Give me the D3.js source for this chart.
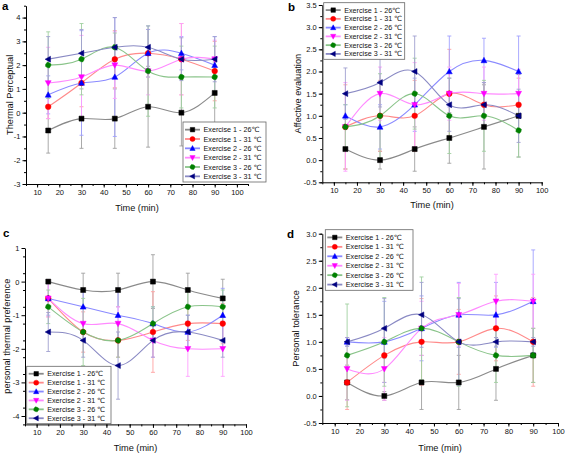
<!DOCTYPE html>
<html><head><meta charset="utf-8">
<script src="https://cdn.jsdelivr.net/npm/d3@7"></script>
<style>body{margin:0;background:#fff}text{font-family:Arial,"Liberation Sans","DejaVu Sans",sans-serif}</style>
</head><body><svg id="c" width="567" height="455"></svg>
<script>
const times=[15,30,45,60,75,90];
const seriesLabels=["Exercise 1 - 26\u2103","Exercise 1 - 31 \u2103","Exercise 2 - 26 \u2103","Exercise 2 - 31 \u2103","Exercise 3 - 26 \u2103","Exercise 3 - 31 \u2103"];
const xTickValues=[10,20,30,40,50,60,70,80,90,100];
// (a) Thermal Perceptual
const thermalMean=[[-0.75,-0.25,-0.25,0.25,0,0.83],[0.25,1.25,2.25,2.5,2.25,1.75],[0.75,1.25,1.5,2.5,2.5,2.0],[1.25,1.5,2.0,1.75,2.25,2.25],[2.0,2.25,2.75,1.75,1.5,1.5],[2.25,2.5,2.75,2.75,2.25,2.25]];
const thermalSD=[[0.95,1.25,1.25,1.7,1.4,1.3],[0.5,1.0,1.2,1.0,1.5,1.25],[0.8,2.2,2.5,1.0,0.7,1.2],[1.5,1.75,1.4,1.0,1.5,0.8],[1.4,1.5,0.6,1.9,1.3,1.3],[0.95,1.0,1.25,0.9,0.9,0.95]];
const thermalYTicks=[-3,-2,-1,0,1,2,3,4];
// (b) Affective evaluation
const affectMean=[[0.25,0,0.25,0.5,0.75,1.0],[0.75,1.0,1.0,1.5,1.25,1.25],[1.0,0.75,1.25,2.0,2.25,2.0],[0.75,1.5,1.25,1.5,1.5,1.5],[0.75,1.0,1.5,1.0,1.0,0.67],[1.5,1.75,2.0,1.25,1.25,1.0]];
const affectSD=[[0.45,0.2,0.5,0.57,0.95,0.93],[0.95,0.8,0.8,1.0,0.5,0.6],[0.25,0.5,0.6,0.8,0.5,0.8],[1.0,0.6,0.95,0.6,0.6,0.55],[0.5,0.95,0.8,0.85,0.8,0.6],[0.58,0.55,0.8,0.6,0.5,0.6]];
const affectYTicks=[-0.5,0,0.5,1,1.5,2,2.5,3,3.5];
// (c) personal thermal preference
const prefMean=[[0,-0.25,-0.25,0,-0.25,-0.5],[-0.5,-1.5,-1.75,-1.5,-1.25,-1.25],[-0.5,-0.75,-1.0,-1.25,-1.5,-1.0],[-0.5,-1.25,-1.25,-1.75,-2.0,-2.0],[-0.75,-1.5,-1.75,-1.25,-0.75,-0.75],[-1.5,-1.75,-2.5,-1.75,-1.5,-1.75]];
const prefSD=[[0.05,0.5,0.5,0.8,0.5,0.57],[0.55,0.6,0.5,1.2,0.5,0.6],[0.5,0.5,0.8,0.5,0.5,0.8],[0.55,0.5,0.5,0.5,0.82,0.82],[0.5,1.0,0.5,0.5,0.5,0.5],[0.58,0.5,1.0,0.5,0.5,0.5]];
const prefYTicks=[-4,-3,-2,-1,0,1];
// (d) Personal tolerance
const tolMean=[[0.25,0,0.25,0.25,0.5,0.75],[0.25,0.75,1.0,1.0,1.25,1.0],[1.0,1.0,1.25,1.5,1.5,1.75],[0.5,0.5,1.25,1.5,1.75,1.75],[0.75,1.0,1.25,1.0,0.75,0.75],[1.0,1.25,1.5,1.0,1.0,1.0]];
const tolSD=[[0.32,0.08,0.5,0.5,0.58,0.5],[0.5,0.5,0.8,0.6,0.6,0.82],[0.08,0.75,0.6,0.6,0.6,0.95],[0.58,0.58,0.5,0.58,0.5,0.5],[0.95,0.82,0.95,0.82,0.5,0.5],[0.08,0.55,0.6,0.8,0.08,0.08]];
const tolYTicks=[-0.5,0,0.5,1,1.5,2,2.5,3];

const markerColors=["#000000","#ff0000","#0000ff","#ff00ff","#008000","#000080"];
const lineColors=["#8a8a8a","#ff8a8a","#8a8aff","#ff8aff","#8ac48a","#8a8ac4"];
const barColors=["#a0a0a0","#ffa0a0","#a0a0ff","#ffa0ff","#a0d0a0","#a0a0d0"];

function markerPath(k){
  const r=3.1;
  switch(k){
    case 0: return "M-2.5,-2.5H2.5V2.5H-2.5Z";
    case 1: return "M2.8,0A2.8,2.8 0 1,1 -2.8,0A2.8,2.8 0 1,1 2.8,0Z";
    case 2: return `M0,${-r}L${r*0.95},${r*0.75}L${-r*0.95},${r*0.75}Z`;
    case 3: return `M0,${r}L${r*0.95},${-r*0.75}L${-r*0.95},${-r*0.75}Z`;
    case 4: {let p=[];for(let i=0;i<8;i++){const a=Math.PI/8+i*Math.PI/4;const rr=(i%2?3.0:2.6);p.push([rr*Math.cos(a),rr*Math.sin(a)]);}return "M"+p.map(q=>q[0].toFixed(2)+","+q[1].toFixed(2)).join("L")+"Z";}
    case 5: return `M${-r},0L${r*0.75},${-r*0.95}L${r*0.75},${r*0.95}Z`;
  }
}

const svg=d3.select("#c");
svg.append("rect").attr("width",567).attr("height",455).attr("fill","#fff");

const panels=[
 {letter:"a",lx:2,ly:10,mean:thermalMean,sd:thermalSD,xd:[5,105],xr:[26,248],yd:[-3,4.5],yr:[184,5.7],yt:thermalYTicks,ym:0.5,fmt:d=>String(d),title:"Thermal Perceptual",ytx:10,xty:210.5,leg:{x:183,y:122,w:83,h:60}},
 {letter:"b",lx:288,ly:11,mean:affectMean,sd:affectSD,xd:[5,100],xr:[322.3,541.7],yd:[-0.5,3.5],yr:[182.3,5],yt:affectYTicks,ym:0.25,fmt:d=>d.toFixed(1),title:"Affective evaluation",ytx:298,xty:208,leg:{x:323.7,y:2.7,w:81,h:56.6}},
 {letter:"c",lx:3,ly:236.5,mean:prefMean,sd:prefSD,xd:[5,100],xr:[25,246],yd:[-4.25,1],yr:[424.4,248],yt:prefYTicks,ym:0.5,fmt:d=>String(d),title:"personal thermal preference",ytx:7,xty:450.5,leg:{x:26.7,y:366.3,w:84.3,h:57.4}},
 {letter:"d",lx:287,ly:238,mean:tolMean,sd:tolSD,xd:[5,100],xr:[322.3,558],yd:[-0.5,3.0],yr:[423,233.7],yt:tolYTicks,ym:0.25,fmt:d=>d.toFixed(1),title:"Personal tolerance",ytx:296,xty:450.5,leg:{x:325.3,y:229.7,w:87.7,h:60.6}}
];

panels.forEach(P=>{
  const g=svg.append("g");
  const x=d3.scaleLinear().domain(P.xd).range(P.xr);
  const y=d3.scaleLinear().domain(P.yd).range(P.yr);
  const y0=P.yr[0], x0=P.xr[0];
  // minor ticks
  const xMinor=d3.range(P.xd[0],P.xd[1]+0.001,5);
  g.append("g").attr("transform",`translate(0,${y0})`).call(d3.axisBottom(x).tickValues(xMinor).tickSize(2).tickFormat("")).call(s=>{s.select(".domain").remove();s.selectAll("line").attr("stroke","#000");});
  const yMinor=d3.range(P.yd[0],P.yd[1]+0.001,P.ym);
  g.append("g").attr("transform",`translate(${x0},0)`).call(d3.axisLeft(y).tickValues(yMinor).tickSize(2).tickFormat("")).call(s=>{s.select(".domain").remove();s.selectAll("line").attr("stroke","#000");});
  // major axes
  const xa=g.append("g").attr("transform",`translate(0,${y0})`).call(d3.axisBottom(x).tickValues(xTickValues).tickSize(3.5).tickSizeOuter(0).tickPadding(2).tickFormat(d=>String(d)));
  const ya=g.append("g").attr("transform",`translate(${x0},0)`).call(d3.axisLeft(y).tickValues(P.yt).tickSize(3.5).tickSizeOuter(0).tickPadding(2).tickFormat(P.fmt));
  [xa,ya].forEach(a=>{a.select(".domain").attr("stroke","#000").attr("stroke-width",1);a.selectAll("line").attr("stroke","#000");a.selectAll("text").attr("font-size",7.5).attr("fill","#111").attr("font-family","Arial,'Liberation Sans',sans-serif");});
  // titles
  g.append("text").attr("x",(P.xr[0]+P.xr[1])/2).attr("y",P.xty).attr("text-anchor","middle").attr("font-size",9.2).attr("fill","#111").text("Time (min)");
  g.append("text").attr("transform",`translate(${P.ytx},${(P.yr[0]+P.yr[1])/2}) rotate(-90)`).attr("text-anchor","middle").attr("dy","0.35em").attr("font-size",9.2).attr("fill","#111").text(P.title);
  g.append("text").attr("x",P.lx).attr("y",P.ly).attr("font-size",11.5).attr("font-weight","bold").attr("fill","#000").text(P.letter);
  // error bars
  P.mean.forEach((m,k)=>{
    const eb=g.append("g").attr("stroke",barColors[k]).attr("stroke-width",0.9);
    m.forEach((v,i)=>{
      const s=P.sd[k][i], cx=x(times[i]);
      eb.append("line").attr("x1",cx).attr("x2",cx).attr("y1",y(v-s)).attr("y2",y(v+s));
      [v-s,v+s].forEach(e=>eb.append("line").attr("x1",cx-2).attr("x2",cx+2).attr("y1",y(e)).attr("y2",y(e)));
    });
  });
  // lines
  const line=d3.line().x((d,i)=>x(times[i])).y(d=>y(d)).curve(d3.curveNatural);
  P.mean.forEach((m,k)=>{
    g.append("path").attr("d",line(m)).attr("fill","none").attr("stroke",lineColors[k]).attr("stroke-width",1.1);
  });
  // markers
  P.mean.forEach((m,k)=>{
    m.forEach((v,i)=>{
      g.append("path").attr("d",markerPath(k)).attr("transform",`translate(${x(times[i])},${y(v)})`).attr("fill",markerColors[k]).attr("stroke",markerColors[k]).attr("stroke-width",0.5);
    });
  });
  // legend
  const L=P.leg;
  const lg=g.append("g");
  lg.append("rect").attr("x",L.x).attr("y",L.y).attr("width",L.w).attr("height",L.h).attr("fill","#fff").attr("stroke","#666").attr("stroke-width",0.8);
  const pitch=(L.h-4)/6;
  seriesLabels.forEach((t,k)=>{
    const cy=L.y+3+pitch*(k+0.5);
    lg.append("line").attr("x1",L.x+2).attr("x2",L.x+17).attr("y1",cy).attr("y2",cy).attr("stroke",lineColors[k]).attr("stroke-width",1.8);
    lg.append("path").attr("d",markerPath(k)).attr("transform",`translate(${L.x+9.5},${cy}) scale(0.9)`).attr("fill",markerColors[k]).attr("stroke",markerColors[k]).attr("stroke-width",0.5);
    lg.append("text").attr("x",L.x+20.5).attr("y",cy).attr("dy","0.35em").attr("font-size",7.2).attr("fill","#111").text(t);
  });
});
</script></body></html>
